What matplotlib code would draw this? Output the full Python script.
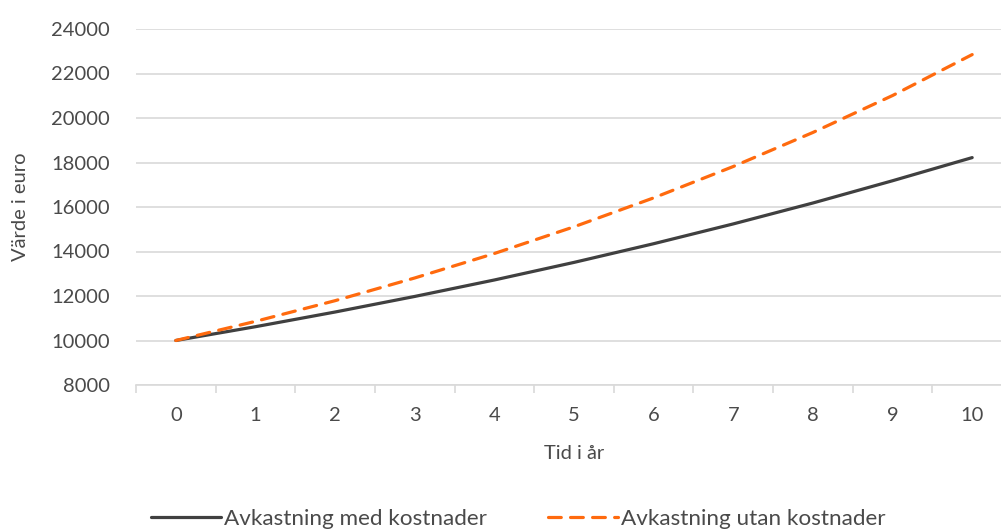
import numpy as np
import matplotlib
matplotlib.use("Agg")
import matplotlib.pyplot as plt

years = list(range(11))
med_kostnader = [10000, 10620, 11280, 11980, 12720, 13510, 14350, 15240, 16180, 17180, 18220]
utan_kostnader = [10000, 10860, 11790, 12810, 13910, 15110, 16410, 17820, 19350, 21010, 22850]
y_ticks = list(range(8000, 24001, 2000))

plt.rcParams['font.family'] = ['Lato', 'DejaVu Sans']
txt = '#4a4a4a'
fs = 14.5

fig = plt.figure(figsize=(10.01, 5.31), dpi=100)
ax = fig.add_axes([136/1001, 146/531, 876/1001, 356/531])

ax.plot(years, med_kostnader, color='#404040', lw=2.3, solid_capstyle='round',
        label='Avkastning med kostnader', zorder=3)
ax.plot(years, utan_kostnader, color='#ff6a0e', lw=2.3, dashes=(4, 2.9),
        dash_capstyle='round', label='Avkastning utan kostnader', zorder=4)

ax.set_xlim(-0.5, 10.5)
ax.set_ylim(8000, 24000)
ax.set_yticks(y_ticks)
ax.set_yticklabels([str(v) for v in y_ticks])
ax.yaxis.grid(True, color='#d9d9d9', lw=1.2)
ax.set_axisbelow(True)
for s in ['top', 'right', 'left']:
    ax.spines[s].set_visible(False)
ax.spines['bottom'].set_color('#d9d9d9')
ax.spines['bottom'].set_linewidth(1.2)

ax.set_xticks(years)
ax.set_xticklabels([str(y) for y in years])
ax.set_xticks(np.arange(-0.5, 10.6, 1), minor=True)
ax.tick_params(axis='x', which='major', length=0, pad=16, labelsize=fs, labelcolor=txt)
ax.tick_params(axis='x', which='minor', length=6, width=1.2, color='#d9d9d9')
ax.tick_params(axis='y', length=0, pad=19, labelsize=fs, labelcolor=txt)

ax.set_xlabel('Tid i år', fontsize=fs, color=txt, labelpad=15)
ax.set_ylabel('Värde i euro', fontsize=fs, color=txt, labelpad=16)

leg = fig.legend(loc='center', bbox_to_anchor=(0.518, 0.022), ncol=2, frameon=False,
                 fontsize=16.2, handlelength=3.1, handletextpad=0.15, columnspacing=2.7)
for t in leg.get_texts():
    t.set_color(txt)

fig.savefig('out.png', dpi=100)
